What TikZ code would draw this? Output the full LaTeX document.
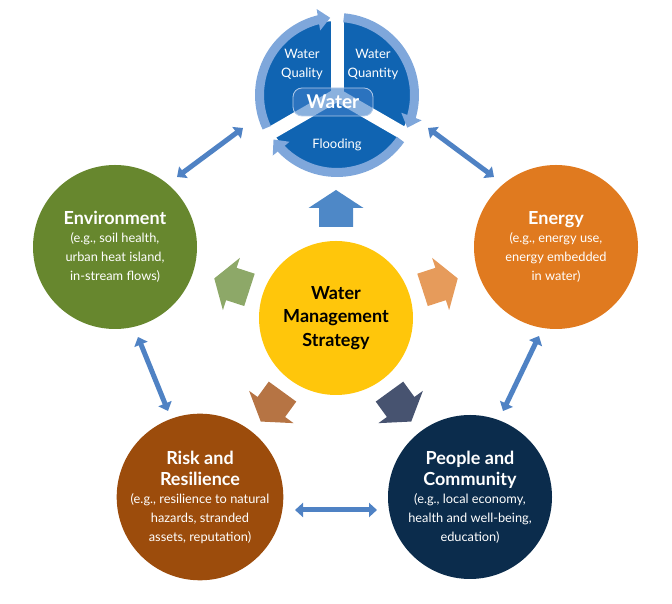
\documentclass[tikz,border=0pt]{standalone}
\usepackage{fontspec}
\setmainfont{Lato}
\usetikzlibrary{arrows.meta,bending,calc}
\definecolor{waterdark}{HTML}{1064B2}
\definecolor{ringblue}{HTML}{7FA7DB}
\definecolor{labelblue}{HTML}{3D7EC8}
\definecolor{centeryellow}{HTML}{FFC60B}
\definecolor{envgreen}{HTML}{67872E}
\definecolor{energyorange}{HTML}{E07A1F}
\definecolor{riskbrown}{HTML}{9C4C0C}
\definecolor{peoplenavy}{HTML}{0B2C4C}
\definecolor{linkblue}{HTML}{4F82C4}
\definecolor{blkblue}{HTML}{4E88C7}
\definecolor{blkgreen}{HTML}{8DA868}
\definecolor{blkorange}{HTML}{E69B5B}
\definecolor{blkbrown}{HTML}{B67444}
\definecolor{blkslate}{HTML}{475370}
\tikzset{
  bigcirc/.style={circle, minimum size=164pt, inner sep=0pt, align=center, text=white,
    font=\fontsize{12.8}{19}\selectfont},
  linkarrow/.style={draw=linkblue, line width=5pt,
    {Triangle[width=14pt,length=8pt]}-{Triangle[width=14pt,length=8pt]}},
  ringarc/.style={draw=ringblue, line width=9pt,
    -{Triangle[width=21pt,length=12pt,flex]}},
  divider/.style={draw=white, line width=13pt},
  smalltxt/.style={text=white, align=center, font=\fontsize{13}{19}\selectfont},
}
\newcommand{\ttl}[1]{{\fontsize{18}{22}\selectfont\bfseries #1}}
\begin{document}
\begin{tikzpicture}[x=1pt,y=1pt]
\useasboundingbox (0,0) rectangle (672,604);
% ---------------- Water circle ----------------
\coordinate (W) at (337,509);
\fill[waterdark] (W) circle[radius=74];
\foreach \a in {90,210,330} \draw[divider] (W) -- ++(\a:75);
\draw[ringarc] ($(W)+(205:77.5)$) arc[start angle=205, end angle=95, radius=77.5];
\draw[ringarc] ($(W)+(85:77.5)$) arc[start angle=85, end angle=-25, radius=77.5];
\draw[ringarc] ($(W)+(-35:77.5)$) arc[start angle=-35, end angle=-145, radius=77.5];
\node[smalltxt] (wq) at (302,539.5) {Water\\Quality};
\node[smalltxt] (wqt) at (373,539.5) {Water\\Quantity};
\node[smalltxt] (wf) at (337,459) {Flooding};
\node[draw=ringblue!60!white, line width=0.8pt, fill=labelblue, fill opacity=0.6, text opacity=1,
  rounded corners=9pt, minimum width=80pt, minimum height=28pt, text=white,
  font=\fontsize{19}{22}\selectfont\bfseries] (wl) at (333,502) {Water};
% ---------------- other circles ----------------
\node[bigcirc, fill=envgreen] (env) at (115,357)
  {\ttl{Environment}\\[-1pt](e.g., soil health,\\urban heat island,\\in-stream flows)};
\node[bigcirc, fill=energyorange] (ene) at (556,357)
  {\ttl{Energy}\\[-1pt](e.g., energy use,\\energy embedded\\in water)};
\node[bigcirc, fill=riskbrown] (risk) at (200,107)
  {\ttl{Risk and}\\[2pt]\ttl{Resilience}\\[-1pt](e.g., resilience to natural\\hazards, stranded\\assets, reputation)};
\node[bigcirc, fill=peoplenavy] (ppl) at (470,107)
  {\ttl{People and}\\[2pt]\ttl{Community}\\[-1pt](e.g., local economy,\\health and well-being,\\education)};
\node[circle, fill=centeryellow, minimum size=154pt, inner sep=0pt, align=center,
  font=\fontsize{18}{23.5}\selectfont\bfseries] (ctr) at (336,286)
  {Water\\Management\\Strategy};
% ---------------- block arrows ----------------
\foreach \ang/\col in {90/blkblue,162/blkgreen,18/blkorange,234/blkbrown,306/blkslate}
  \fill[\col, shift={(ctr.center)}, rotate=\ang]
    (91,-17) -- (110,-17) -- (110,-27.5) -- (128,0) -- (110,27.5) -- (110,17) -- (91,17) -- cycle;
% ---------------- links ----------------
\coordinate (l1a) at (243,476); \coordinate (l1b) at (177,427);
\coordinate (l2a) at (428,476); \coordinate (l2b) at (494,427);
\coordinate (l3a) at (138,267); \coordinate (l3b) at (168,193);
\coordinate (l4a) at (539,268); \coordinate (l4b) at (503,193);
\coordinate (l5a) at (295,94);  \coordinate (l5b) at (377,94);
\draw[linkarrow] (l1a) -- (l1b);
\draw[linkarrow] (l2a) -- (l2b);
\draw[linkarrow] (l3a) -- (l3b);
\draw[linkarrow] (l4a) -- (l4b);
\draw[linkarrow] (l5a) -- (l5b);
\end{tikzpicture}
\end{document}
